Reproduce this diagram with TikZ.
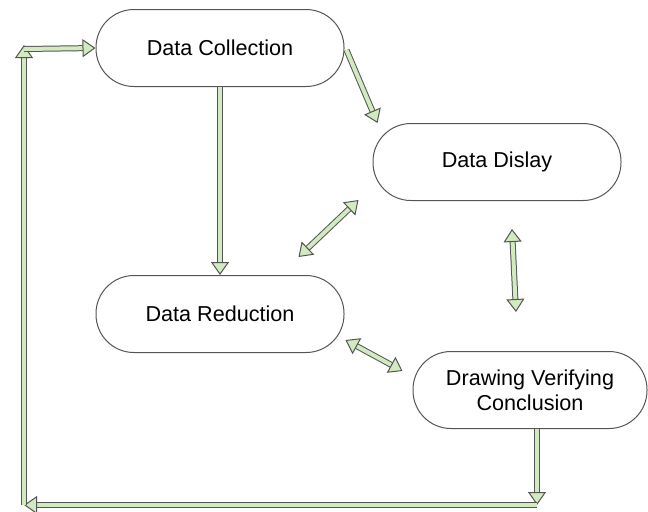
\documentclass[tikz,border=0pt]{standalone}
\usepackage{fontspec}
\setmainfont{Liberation Sans}
\usetikzlibrary{arrows.meta}
\definecolor{arrowgreen}{RGB}{210,234,192}
\definecolor{edgegray}{RGB}{85,85,85}
\begin{document}
\begin{tikzpicture}[x=0.5pt, y=-0.5pt,
    stage/.style={draw=edgegray, line width=0.5pt, rectangle, rounded corners=19pt,
      minimum width=124pt, minimum height=38.5pt, align=center,
      font=\fontsize{10.8}{12.5}\selectfont},
    flow/.style={draw=edgegray, line width=0.5pt, double=arrowgreen, double distance=2pt,
      -{Triangle[open, fill=arrowgreen, length=6.5pt, width=9pt]}},
    both/.style={flow, {Triangle[open, fill=arrowgreen, length=6.5pt, width=9pt]}-{Triangle[open, fill=arrowgreen, length=6.5pt, width=9pt]}}]
    \useasboundingbox (0, 0) rectangle (648, 511);

    \node [stage] (dc) at (220, 48) {Data Collection};
    \node [stage] (dd) at (497, 162) {Data Dislay};
    \node [stage] (dr) at (220, 314) {Data Reduction};
    \node [stage, minimum width=117pt] (dv) at (530, 390) {Drawing Verifying\\Conclusion};

    \coordinate (loopb) at (537, 505);
    \coordinate (loopl) at (24, 505);
    \coordinate (loopt) at (24, 45);
    \coordinate (loopin) at (24, 49);

    \draw [flow] (dc.south) -- (dr.north);
    \draw [flow] ([shift={(2, 2)}]dc.east) -- ([shift={(5, 0)}]dd.north west);
    \draw [both] ([shift={(-46, -18)}]dr.north east) -- ([shift={(-14, -1)}]dd.south west);
    \draw [both] ([shift={(15, 28)}]dd.south) -- ([shift={(-14, -39)}]dv.north);
    \draw [both] ([shift={(1, 26)}]dr.east) -- ([shift={(-10, 20)}]dv.north west);

    \draw [flow] ([shift={(7, 0)}]dv.south) -- (loopb);
    \draw [flow] (loopb) -- (loopl);
    \draw [flow] (loopl) -- (loopt);
    \draw [flow] (loopin) -- (dc.west);
  \end{tikzpicture}
\end{document}
